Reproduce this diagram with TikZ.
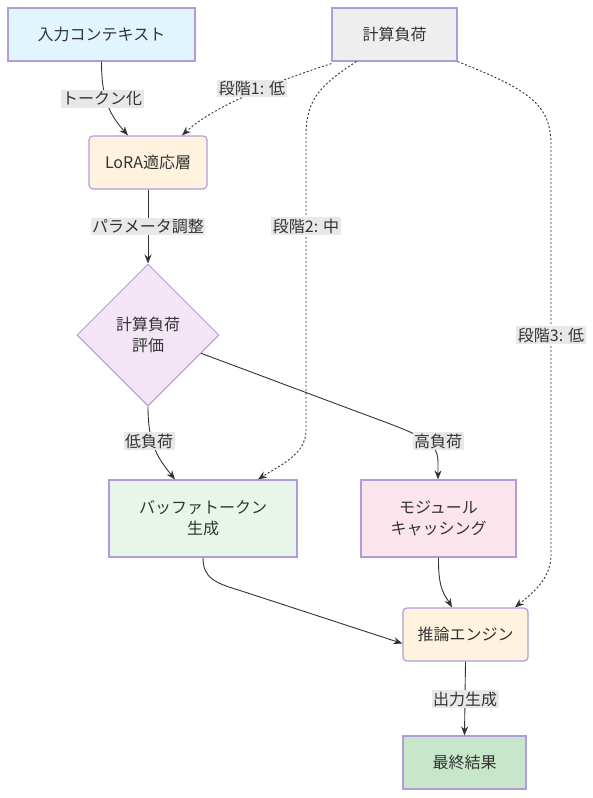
\documentclass[tikz,border=0pt]{standalone}
\usepackage{fontspec}
\setmainfont{Noto Sans CJK JP}
\usetikzlibrary{shapes.geometric,arrows.meta}
\definecolor{bd}{RGB}{176,156,218}
\definecolor{tx}{RGB}{51,51,51}
\definecolor{ln}{RGB}{51,51,51}
\definecolor{lblbg}{RGB}{232,232,232}
\definecolor{cblue}{RGB}{225,245,254}
\definecolor{cgray}{RGB}{238,238,238}
\definecolor{corange}{RGB}{255,243,224}
\definecolor{cpurple}{RGB}{243,229,245}
\definecolor{cgreen}{RGB}{232,245,233}
\definecolor{cpink}{RGB}{252,228,236}
\definecolor{cdgreen}{RGB}{200,230,201}
\begin{document}
\begin{tikzpicture}[x=1pt,y=-1pt,
  every node/.style={font=\fontsize{16}{21}\selectfont, text=tx},
  box/.style={draw=bd, line width=1.2pt, align=center, inner sep=0pt},
  rbox/.style={box, rounded corners=4pt},
  lbl/.style={fill=lblbg, inner sep=1.5pt, font=\fontsize{16}{18}\selectfont},
  edge/.style={draw=ln, line width=0.9pt, -{Stealth[length=9pt,width=7pt]}},
  dedge/.style={edge, dash pattern=on 2pt off 2pt}]
\useasboundingbox (0,0) rectangle (593,798);
\node[box, fill=cblue, minimum width=187pt, minimum height=53pt] (in) at (101.5,34.5) {入力コンテキスト};
\node[box, fill=cgray, minimum width=125pt, minimum height=53pt] (load) at (394.5,34.5) {計算負荷};
\node[rbox, fill=corange, minimum width=118pt, minimum height=53pt] (lora) at (148,162.5) {LoRA適応層};
\node[diamond, draw=bd, line width=1pt, fill=cpurple, minimum width=142pt, minimum height=142pt, inner sep=0pt, align=center] (eval) at (148,335) {計算負荷\\評価};
\node[box, fill=cgreen, minimum width=188pt, minimum height=77pt] (buf) at (203,518.5) {バッファトークン\\生成};
\node[box, fill=cpink, minimum width=155pt, minimum height=77pt] (mod) at (438.5,518.5) {モジュール\\キャッシング};
\node[rbox, fill=corange, minimum width=125pt, minimum height=53pt] (inf) at (465.5,634.5) {推論エンジン};
\node[box, fill=cdgreen, minimum width=123pt, minimum height=53pt] (res) at (464.5,762.5) {最終結果};

% edges
\draw[edge] (in.south) .. controls (101.5,100) and (110,115) .. ([xshift=-20pt]lora.north);
\draw[dedge] ([yshift=-2pt]load.south west) .. controls (280,80) and (215,105) .. ([xshift=34pt]lora.north);
\draw[dedge] ([xshift=25pt]load.south west) .. controls (320,85) and (306,100) .. (306,135) -- (306,430) .. controls (306,455) and (280,465) .. ([xshift=55pt]buf.north);
\draw[dedge] (load.south east) .. controls (530,90) and (551,105) .. (551,145) -- (551,555) .. controls (551,580) and (530,595) .. ([xshift=49.5pt]inf.north);
\draw[edge] (lora.south) -- (eval.north);
\draw[edge] (eval.south) .. controls (148,440) and (155,455) .. ([xshift=-28pt]buf.north);
\draw[edge] (eval.-19) -- (350,409) .. controls (420,435) and (438,440) .. (438,462) -- ([xshift=-0.5pt]mod.north);
\draw[edge] (buf.south) .. controls (203,578) and (215,583) .. (240,590.5) -- ([yshift=-9pt]inf.west);
\draw[edge] (mod.south) .. controls (438,590) and (445,595) .. ([xshift=-13.5pt]inf.north);
\draw[edge] (inf.south) -- (res.north);

% labels
\node[lbl] (l1) at (102,99) {トークン化};
\node[lbl] (l2) at (252,88.5) {段階1: 低};
\node[lbl] (l3) at (148,226.5) {パラメータ調整};
\node[lbl] (l4) at (306,226) {段階2: 中};
\node[lbl] (l5) at (551,335) {段階3: 低};
\node[lbl] (l6) at (149,441) {低負荷};
\node[lbl] (l7) at (438,441) {高負荷};
\node[lbl] (l8) at (465,699) {出力生成};
\end{tikzpicture}
\end{document}
